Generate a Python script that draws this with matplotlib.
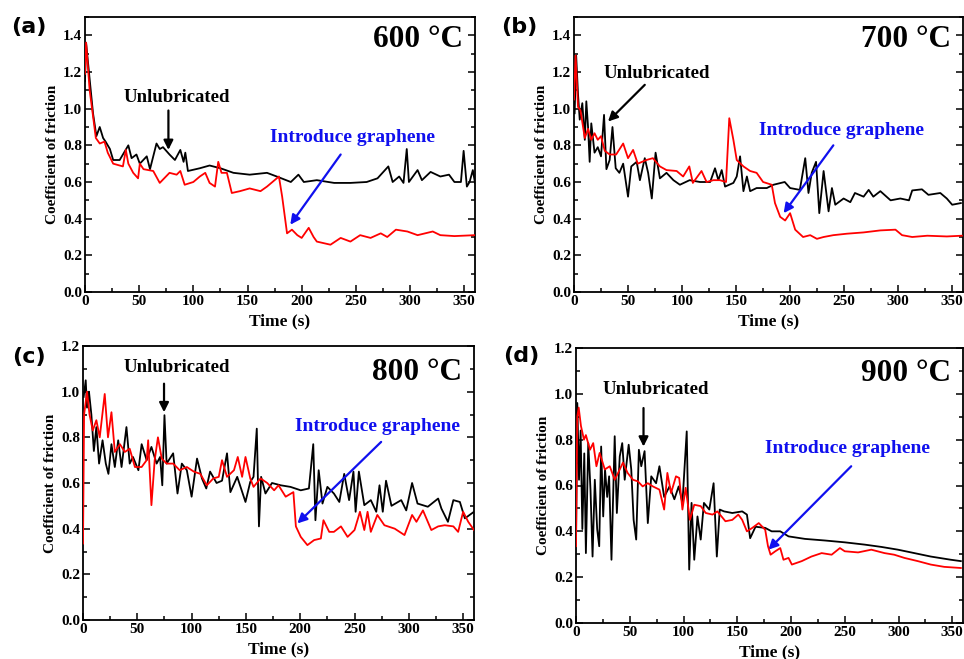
import matplotlib
matplotlib.use("Agg")
import matplotlib.pyplot as plt
from matplotlib.ticker import MultipleLocator

# ---------------- data ----------------
# (a) 600 C
a_blk_t = [0, 1, 4.3, 7.4, 10.5, 13.6, 16.7, 19, 23, 26, 32, 40, 43, 47.5, 50.6, 57, 60, 66, 69, 72, 78, 83, 88, 91,
           92.6, 95, 106, 115, 125, 137, 152, 168, 177, 190, 197, 202, 214, 230, 245, 260, 270, 280, 284, 290, 294,
           297, 299, 307, 311, 319, 328, 336, 341, 347, 349.5, 352.5, 355, 358, 360]
a_blk_v = [1.15, 1.36, 1.16, 0.975, 0.85, 0.90, 0.84, 0.82, 0.78, 0.72, 0.72, 0.80, 0.73, 0.75, 0.70, 0.74, 0.67, 0.81,
           0.78, 0.79, 0.75, 0.72, 0.775, 0.71, 0.76, 0.66, 0.675, 0.69, 0.675, 0.65, 0.64, 0.65, 0.63, 0.60, 0.64, 0.60,
           0.61, 0.595, 0.595, 0.60, 0.62, 0.685, 0.60, 0.63, 0.595, 0.78, 0.60, 0.665, 0.61, 0.655, 0.63, 0.64, 0.60,
           0.60, 0.77, 0.575, 0.60, 0.665, 0.595]
a_red_t = [0, 1, 4.3, 7.4, 10, 13.6, 18, 21, 26, 35, 37.7, 40, 44.5, 49, 50.6, 54, 63, 69, 78, 84.6, 88, 92, 100, 106,
           111, 115, 120, 123, 126, 131, 135.5, 143, 152, 162, 168, 179, 182, 186.5, 191, 196, 200, 206.5, 211, 214,
           226.6, 236, 245, 254, 263.6, 273, 279, 287, 297.6, 307, 321, 328, 341, 360]
a_red_v = [1.19, 1.36, 1.10, 0.96, 0.84, 0.81, 0.82, 0.76, 0.70, 0.685, 0.775, 0.70, 0.65, 0.62, 0.70, 0.67, 0.66, 0.595,
           0.65, 0.64, 0.66, 0.585, 0.60, 0.63, 0.65, 0.595, 0.575, 0.71, 0.65, 0.65, 0.54, 0.55, 0.565, 0.55, 0.575,
           0.63, 0.52, 0.32, 0.34, 0.31, 0.295, 0.35, 0.30, 0.275, 0.258, 0.295, 0.275, 0.31, 0.295, 0.32, 0.30, 0.34,
           0.33, 0.31, 0.33, 0.31, 0.305, 0.31]

# (b) 700 C
b_blk_t = [0.6, 2, 3.7, 5.3, 7.7, 10, 11.4, 13, 14.5, 16, 19, 22, 25, 27.8, 30, 33, 35.6, 38.6, 42, 45.5, 50, 53, 58,
           61, 65.5, 68.6, 72, 75.5, 79.5, 85.6, 92, 98, 107, 116.6, 126, 130.5, 133.6, 136.7, 139.8, 147.5, 150.6,
           153.7, 156.8, 160, 163, 169, 178.4, 184.6, 195, 200, 209, 214, 217, 220, 224, 227, 231, 235.6, 238.7,
           241.8, 249.5, 255.7, 260, 268, 272.7, 277, 283.5, 293, 302, 310, 313, 322, 328, 339, 345, 350, 358]
b_blk_v = [0.975, 1.29, 1.08, 0.94, 1.03, 0.83, 1.04, 0.90, 0.71, 0.92, 0.76, 0.79, 0.74, 0.966, 0.67, 0.72, 0.90, 0.675,
           0.65, 0.70, 0.52, 0.685, 0.71, 0.61, 0.73, 0.65, 0.51, 0.76, 0.62, 0.65, 0.61, 0.585, 0.61, 0.60, 0.60, 0.675,
           0.61, 0.665, 0.575, 0.595, 0.63, 0.74, 0.55, 0.63, 0.55, 0.567, 0.567, 0.585, 0.60, 0.567, 0.557, 0.73, 0.54,
           0.65, 0.71, 0.43, 0.66, 0.44, 0.567, 0.476, 0.51, 0.49, 0.54, 0.52, 0.557, 0.52, 0.55, 0.50, 0.51, 0.50,
           0.554, 0.56, 0.53, 0.54, 0.51, 0.476, 0.485]
b_red_t = [0, 1.5, 3.7, 6, 10, 13, 16, 19, 22, 25, 28.5, 33, 39, 45.5, 50, 54.7, 59, 67, 73, 79.5, 85.6, 95, 101, 106.7,
           110, 118, 122.7, 129, 135, 140.7, 143.7, 147.5, 150.6, 156.8, 163, 169, 175, 183, 186, 190.8, 195.4, 200,
           204.7, 212, 218.6, 224.8, 231, 240, 252.6, 268, 283.5, 297.5, 303.6, 313, 327, 345, 359]
b_red_v = [1.05, 1.29, 1.01, 0.99, 0.84, 0.89, 0.83, 0.866, 0.83, 0.85, 0.77, 0.75, 0.75, 0.81, 0.73, 0.775, 0.70, 0.72,
           0.73, 0.685, 0.665, 0.66, 0.63, 0.685, 0.595, 0.66, 0.60, 0.61, 0.61, 0.60, 0.948, 0.83, 0.72, 0.685, 0.66,
           0.65, 0.60, 0.585, 0.485, 0.41, 0.39, 0.43, 0.34, 0.30, 0.31, 0.29, 0.30, 0.31, 0.318, 0.325, 0.336, 0.34,
           0.31, 0.30, 0.307, 0.303, 0.307]

# (c) 800 C
c_blk_t = [0.6, 2.5, 3.7, 5.5, 7.7, 10, 12.3, 14.8, 18, 21, 23.4, 26.2, 29.3, 32.4, 35.5, 40, 43, 46, 51, 54, 58.6, 63,
           67.8, 71, 73, 75, 77, 83, 87, 91, 95.6, 100, 105, 109.5, 113.5, 117, 123, 128, 132.6, 135.7, 142, 149.6,
           154, 157, 160, 162, 164, 168, 174, 182, 191, 200.5, 208, 212, 214, 217, 220.5, 225, 231, 236, 240.5, 245,
           249, 251, 254, 259, 265, 270, 273, 276, 279, 284, 293, 297.6, 303, 308, 317.5, 327, 330, 336, 341, 347,
           351.6, 360]
c_blk_v = [0.977, 1.05, 0.93, 1.0, 0.90, 0.74, 0.845, 0.685, 0.787, 0.685, 0.64, 0.77, 0.67, 0.787, 0.67, 0.845, 0.685,
           0.714, 0.656, 0.77, 0.70, 0.758, 0.685, 0.714, 0.59, 0.897, 0.685, 0.73, 0.554, 0.685, 0.656, 0.54, 0.707,
           0.62, 0.576, 0.65, 0.60, 0.61, 0.73, 0.56, 0.627, 0.517, 0.605, 0.627, 0.838, 0.41, 0.627, 0.554, 0.60, 0.59,
           0.583, 0.568, 0.576, 0.77, 0.437, 0.656, 0.51, 0.583, 0.554, 0.517, 0.64, 0.525, 0.65, 0.474, 0.65, 0.503,
           0.525, 0.474, 0.59, 0.474, 0.61, 0.50, 0.525, 0.48, 0.60, 0.51, 0.496, 0.532, 0.488, 0.43, 0.525, 0.517,
           0.445, 0.474]
c_red_t = [0, 1, 3.7, 6, 9, 12.3, 15.4, 20, 23, 26.2, 29.3, 34, 38.5, 43, 47.8, 54, 58.6, 60, 63, 66, 69, 72.5, 77, 83,
           89, 95.6, 102, 108, 114, 120, 125, 128, 132.6, 139, 142.5, 146.5, 149.6, 154, 157, 163.5, 169.6, 176, 180,
           186.6, 193.7, 196, 200.5, 206.6, 212.8, 219, 221.4, 226.7, 231, 237.5, 243.6, 250, 255, 259, 262, 265, 271,
           277.5, 287, 296, 303, 307, 313, 320.7, 327, 333, 341, 345.4, 350, 354.7, 360]
c_red_v = [0.335, 0.90, 1.0, 0.90, 0.83, 0.875, 0.80, 0.99, 0.80, 0.91, 0.736, 0.77, 0.736, 0.75, 0.67, 0.67, 0.70,
           0.787, 0.503, 0.70, 0.80, 0.707, 0.685, 0.685, 0.656, 0.67, 0.65, 0.64, 0.59, 0.62, 0.627, 0.70, 0.627,
           0.656, 0.714, 0.627, 0.714, 0.62, 0.583, 0.62, 0.60, 0.568, 0.59, 0.54, 0.56, 0.41, 0.364, 0.328, 0.35,
           0.357, 0.437, 0.386, 0.386, 0.41, 0.364, 0.394, 0.474, 0.394, 0.474, 0.386, 0.46, 0.415, 0.40, 0.372, 0.46,
           0.43, 0.48, 0.394, 0.41, 0.415, 0.41, 0.386, 0.474, 0.43, 0.394]

# (d) 900 C
d_blk_t = [0, 1.2, 2.8, 4.3, 5.9, 7.7, 9.2, 11.4, 13.5, 15.4, 17.5, 19.7, 21.6, 23.4, 25.3, 27, 29, 30.8, 33, 36, 38,
           40.7, 43, 45.3, 49, 51.4, 53.6, 56, 58.5, 60.7, 63.8, 66.8, 70, 74.5, 77.6, 82, 87, 91.5, 95.5, 99, 103,
           105.3, 107.5, 110, 113, 116, 119, 124, 128, 131, 133.7, 137.7, 145.4, 154.6, 159, 162, 167, 176, 182, 190,
           197.7, 213, 231.6, 250, 268.6, 284, 299.4, 311.7, 330, 348.7, 358]
d_blk_v = [0.35, 0.96, 0.625, 0.84, 0.41, 0.74, 0.305, 0.785, 0.58, 0.29, 0.625, 0.41, 0.335, 0.77, 0.465, 0.67, 0.55,
           0.64, 0.276, 0.815, 0.48, 0.727, 0.785, 0.625, 0.778, 0.67, 0.45, 0.364, 0.756, 0.684, 0.75, 0.436, 0.64,
           0.61, 0.684, 0.55, 0.596, 0.54, 0.596, 0.524, 0.836, 0.233, 0.524, 0.276, 0.465, 0.364, 0.524, 0.495, 0.61,
           0.29, 0.495, 0.487, 0.48, 0.487, 0.473, 0.37, 0.42, 0.415, 0.40, 0.40, 0.378, 0.367, 0.36, 0.352, 0.342,
           0.332, 0.32, 0.308, 0.29, 0.276, 0.27]
d_red_t = [0, 1.2, 2.5, 4.6, 7.4, 9.2, 13, 16, 19, 22, 26.8, 31.4, 36, 40.7, 43.7, 48, 53, 57.6, 62, 66.8, 71.5, 77.6,
           82, 85, 88.4, 93, 96, 99, 102, 106, 110, 116, 120.7, 127, 131.5, 139, 145.4, 151, 154.6, 159, 164, 170,
           176, 178.6, 181, 185.4, 190, 193, 197.7, 200.8, 210, 219, 228.5, 237.8, 245.5, 250, 262.4, 274.7, 287, 296,
           305.5, 318, 330, 342.5, 358]
d_red_v = [0.335, 0.90, 0.94, 0.86, 0.80, 0.82, 0.756, 0.785, 0.684, 0.742, 0.67, 0.684, 0.625, 0.67, 0.70, 0.655,
           0.625, 0.618, 0.596, 0.61, 0.596, 0.582, 0.495, 0.655, 0.567, 0.64, 0.633, 0.495, 0.59, 0.45, 0.516, 0.51,
           0.48, 0.473, 0.487, 0.444, 0.45, 0.473, 0.45, 0.40, 0.415, 0.436, 0.407, 0.335, 0.298, 0.313, 0.327, 0.276,
           0.284, 0.255, 0.27, 0.29, 0.305, 0.298, 0.327, 0.313, 0.308, 0.32, 0.305, 0.298, 0.284, 0.27, 0.255, 0.245,
           0.24]

panel_labels = ["(a)", "(b)", "(c)", "(d)"]
temps = ["600 °C", "700 °C", "800 °C", "900 °C"]
ymax = [1.5, 1.5, 1.2, 1.2]
yticks_top = [1.4, 1.4, 1.2, 1.2]
xticks = [0, 50, 100, 150, 200, 250, 300, 350]

# annotation positions in data coords: (text xy, arrow start, arrow end)
unlub = [((84.6, 1.06), (77, 0.99), (77, 0.775)),
         ((76.4, 1.19), (65.5, 1.13), (31.5, 0.93)),
         ((86.4, 1.108), (74.6, 1.035), (74.6, 0.91)),
         ((74.5, 1.018), (62.8, 0.938), (62.8, 0.77))]
intro = [((246.6, 0.84), (236, 0.75), (189.5, 0.367)),
         ((248, 0.88), (240, 0.80), (194, 0.43)),
         ((271.4, 0.848), (274.5, 0.78), (197.4, 0.423)),
         ((253, 0.76), (256, 0.684), (179, 0.32))]
temp_y = [1.375, 1.375, 1.086, 1.09]

series = [(a_blk_t, a_blk_v, a_red_t, a_red_v),
          (b_blk_t, b_blk_v, b_red_t, b_red_v),
          (c_blk_t, c_blk_v, c_red_t, c_red_v),
          (d_blk_t, d_blk_v, d_red_t, d_red_v)]

# ---------------- figure ----------------
plt.rcParams['font.family'] = ['Liberation Serif', 'DejaVu Serif']
plt.rcParams['font.weight'] = 'bold'
fig = plt.figure(figsize=(9.64, 6.59), dpi=100)

W, H = 964.0, 659.0
boxes = [(85, 17, 475, 292), (574, 17, 963, 292), (83, 346, 474, 620), (576, 348, 963, 623)]
label_pos = [(11, 27), (501, 27), (12, 357), (503, 356)]

for i, (l, t, r, b) in enumerate(boxes):
    ax = fig.add_axes([l / W, 1 - b / H, (r - l) / W, (b - t) / H])
    bt, bv, rt, rv = series[i]
    ax.plot(bt, bv, color='black', lw=1.3, zorder=3)
    ax.plot(rt, rv, color='red', lw=1.3, zorder=4)
    ax.set_xlim(0, 360)
    ax.set_ylim(0, ymax[i])
    ax.set_xticks(xticks)
    yt = [round(0.2 * k, 1) for k in range(int(round(yticks_top[i] / 0.2)) + 1)]
    ax.set_yticks(yt)
    ax.set_yticklabels([f"{v:.1f}" for v in yt])
    ax.xaxis.set_minor_locator(MultipleLocator(25))
    ax.yaxis.set_minor_locator(MultipleLocator(0.1))
    ax.tick_params(which='both', direction='in', left=True, right=True, bottom=True, top=False,
                   labelsize=11, width=1.1, pad=2)
    ax.tick_params(which='major', length=5)
    ax.tick_params(which='minor', length=3)
    for s in ax.spines.values():
        s.set_linewidth(1.3)
    for lab in ax.get_xticklabels() + ax.get_yticklabels():
        lab.set_fontweight('bold')
    ax.set_xlabel("Time (s)", fontsize=12.5, fontweight='bold', labelpad=4)
    ax.set_ylabel("Coefficient of friction", fontsize=11, fontweight='bold', labelpad=3)

    ax.text(349, temp_y[i], temps[i], fontsize=22.5, fontweight='bold', ha='right', va='center')

    (ut, us, ue) = unlub[i]
    ax.text(ut[0], ut[1], "Unlubricated", fontsize=13.5, fontweight='bold', ha='center', va='center', color='black')
    ax.annotate("", xy=ue, xytext=us,
                arrowprops=dict(arrowstyle='-|>', color='black', lw=1.6, mutation_scale=14, shrinkA=0, shrinkB=0))
    (gt, gs, ge) = intro[i]
    ax.text(gt[0], gt[1], "Introduce graphene", fontsize=14, fontweight='bold', ha='center', va='center',
            color='#1010ee')
    ax.annotate("", xy=ge, xytext=gs,
                arrowprops=dict(arrowstyle='-|>', color='#1010ee', lw=1.6, mutation_scale=14, shrinkA=0, shrinkB=0))

    fig.text(label_pos[i][0] / W, 1 - label_pos[i][1] / H, panel_labels[i], fontsize=16, fontweight='bold',
             family=['DejaVu Sans'], ha='left', va='center')

fig.savefig("out.png", dpi=100)
